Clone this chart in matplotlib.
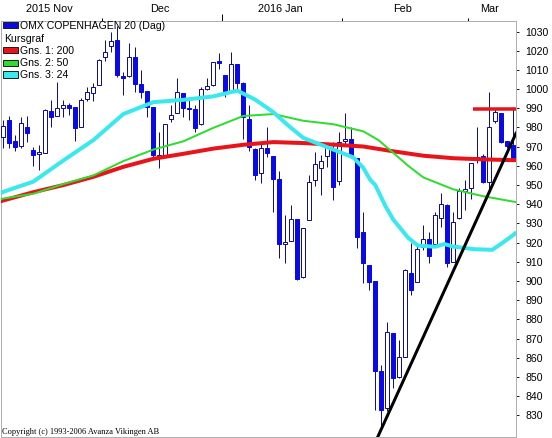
import matplotlib
matplotlib.use('Agg')
import matplotlib.pyplot as plt
from matplotlib.patches import Rectangle
from matplotlib.transforms import blended_transform_factory

plt.rcParams['font.family'] = ['Liberation Sans', 'DejaVu Sans']

# ---------------- data ----------------
opens = [974.9, 983.9, 973.2, 970.5, 980.1, 968.3, 966.4, 966.9, 988.8, 986.0,
         990.3, 991.6, 990.5, 980.4, 994.7, 998.2, 1002.1, 1016.6, 1022.5, 1025.6,
         1006.8, 1007.0, 1016.6, 1002.7, 999.0, 990.5, 965.7, 964.8, 984.3, 987.7,
         997.8, 990.2, 989.5, 981.7, 1000.2, 1002.0, 1014.6, 1007.4, 999.2, 1013.1,
         1003.4, 984.3, 968.8, 956.1, 969.5, 965.1, 953.0, 919.2, 921.0, 932.1,
         902.0, 931.8, 952.6, 958.7, 965.1, 968.6, 952.1, 972.9, 973.8, 963.9,
         925.4, 908.4, 900.0, 853.0, 833.7, 872.8, 849.9, 860.6, 904.0, 899.7,
         917.9, 921.7, 919.1, 932.7, 939.7, 910.1, 932.7, 947.1, 948.3, 963.5,
         965.1, 951.8, 983.4, 987.3, 972.9, 970.8]
highs = [983.9, 986.0, 976.1, 985.7, 986.2, 970.0, 970.9, 989.5, 994.3, 1003.9,
         994.3, 992.6, 990.8, 995.2, 1001.3, 1003.4, 1015.5, 1025.6, 1030.0, 1033.0,
         1009.0, 1024.2, 1022.1, 1010.0, 999.0, 990.5, 977.8, 982.0, 991.7, 1005.6,
         998.0, 996.1, 991.7, 1001.3, 1005.6, 1014.2, 1018.6, 1007.6, 1019.3, 1013.3,
         1003.6, 991.7, 969.2, 972.6, 980.4, 965.3, 957.3, 934.4, 939.6, 932.3,
         927.7, 955.2, 967.4, 965.7, 971.7, 972.6, 977.4, 987.7, 980.0, 964.1,
         936.1, 908.6, 900.2, 856.3, 878.7, 873.0, 869.3, 906.5, 919.6, 919.6,
         929.2, 925.7, 936.1, 945.7, 940.0, 936.1, 948.3, 952.6, 961.5, 980.4,
         966.0, 998.6, 990.0, 987.5, 973.0, 990.8]
lows = [969.2, 969.2, 967.9, 969.5, 972.6, 960.1, 957.9, 966.5, 980.4, 986.0,
        985.7, 986.5, 973.2, 980.4, 994.0, 994.0, 1002.1, 1014.8, 1019.5, 1006.1,
        997.0, 1006.5, 998.7, 995.2, 985.7, 964.8, 958.7, 964.5, 983.0, 987.4,
        985.7, 983.9, 977.8, 981.5, 999.5, 1001.6, 1010.3, 995.7, 998.7, 998.7,
        973.8, 968.0, 952.6, 950.9, 964.4, 936.1, 911.8, 909.2, 920.8, 900.7,
        901.8, 931.6, 949.5, 944.8, 959.6, 942.2, 950.0, 970.8, 963.9, 917.0,
        899.0, 895.3, 832.8, 824.0, 832.5, 844.5, 849.5, 860.4, 893.0, 899.5,
        916.2, 909.2, 918.9, 928.3, 907.1, 909.9, 932.5, 937.0, 942.5, 961.5,
        951.0, 947.4, 982.1, 971.7, 969.1, 962.5]
closes = [980.8, 971.8, 970.0, 982.2, 977.3, 965.7, 966.8, 989.1, 985.7, 990.0,
          991.6, 990.3, 979.9, 994.3, 998.5, 1000.9, 1015.2, 1019.5, 1025.2, 1007.4,
          1005.8, 1016.6, 1002.7, 998.7, 990.5, 965.7, 964.5, 981.8, 986.5, 998.7,
          990.0, 989.6, 979.9, 999.9, 1001.4, 1014.0, 1013.8, 999.2, 1013.1, 1003.4,
          985.7, 970.0, 955.2, 969.1, 966.5, 953.0, 919.1, 920.2, 932.1, 900.9,
          927.5, 951.4, 960.8, 962.5, 969.1, 949.1, 972.6, 973.8, 965.6, 922.8,
          909.2, 899.7, 853.3, 833.0, 873.4, 849.3, 860.3, 905.8, 895.2, 916.5,
          921.7, 913.2, 934.4, 939.9, 909.2, 930.6, 946.9, 947.8, 961.3, 964.5,
          951.8, 980.4, 987.9, 972.6, 970.5, 963.0]

month_labels = ['2015 Nov', 'Dec', '2016 Jan', 'Feb', 'Mar']
month_days = [17, 20, 20, 21, 8]          # trading days shown per month
year_start_month = 2                       # index of '2016 Jan'

# moving averages, read at candle positions
ma200_x = [-0.5, 0, 5, 10, 15, 20, 25, 30, 35, 40, 45, 50, 55, 60, 65, 70, 75, 80, 85, 85.5]
ma200_y = [941.5, 942.0, 946.3, 950.0, 954.3, 959.5, 963.7, 966.3, 969.0, 971.0,
           972.4, 971.9, 971.1, 970.1, 967.6, 965.3, 964.0, 963.4, 963.0, 963.0]

ma50_x = [-0.5, 0, 5, 10, 15, 20, 25, 30, 35, 40, 45, 50, 55, 60, 62.5, 65, 67.5, 70, 75, 80, 85, 85.5]
ma50_y = [942.5, 943.0, 945.5, 950.5, 955.0, 962.5, 968.5, 972.8, 979.8, 986.0,
          987.0, 983.5, 981.7, 978.0, 973.5, 966.8, 960.0, 954.0, 947.8, 944.2, 941.4, 941.2]

ma24_x = [-0.5, 0, 5, 10, 15, 20, 25, 30, 35, 39, 42, 45, 47.5, 50, 55, 58.3, 60, 61.1,
          62, 63.7, 65, 67.5, 69.1, 72, 73.5, 75, 78.5, 81.5, 83, 85, 85.5]
ma24_y = [945.5, 946.5, 951.8, 962.8, 973.4, 987.0, 993.2, 994.4, 996.2, 999.2, 994.5,
          988.0, 981.0, 974.6, 968.5, 964.5, 959.0, 953.0, 950.0, 939.0, 932.0, 922.5,
          918.5, 917.9, 919.3, 918.0, 916.6, 916.3, 919.5, 924.0, 925.5]

resist_x = [78.3, 85.6]
resist_y = [989.7, 989.7]

trend_x = [62.3, 85.45]
trend_y = [818.1, 977.0]

y_ticks = [830, 840, 850, 860, 870, 880, 890, 900, 910, 920, 930,
           940, 950, 960, 970, 980, 990, 1000, 1010, 1020, 1030]

legend_items = [('OMX COPENHAGEN 20 (Dag)', '#0a0ae6'),
                ('Kursgraf', None),
                ('Gns. 1: 200', '#e8141a'),
                ('Gns. 2: 50', '#2fdc2f'),
                ('Gns. 3: 24', '#3ae8ee')]
copyright_text = 'Copyright (c) 1993-2006 Avanza Vikingen AB'

# ---------------- style ----------------
W, H = 552, 438
BLUE = '#0a0ae6'
NAVY = '#10108c'
RED = '#e8141a'
GREEN = '#2fdc2f'
CYAN = '#3ae8ee'
FRAME = '#b0b0b0'
PX = 0.72  # points per pixel at dpi 100

fig = plt.figure(figsize=(W / 100, H / 100), dpi=100)
ax = fig.add_axes([1 / W, 1 - 436.5 / H, 515 / W, 416 / H])
ax.set_xlim(-0.383, 85.45)
ax.set_ylim(819.06, 1035.73)

# candles
n = len(opens)
idx = list(range(n))
ax.vlines(idx, lows, highs, color=NAVY, lw=1.0 * PX, zorder=2)
bottoms = [min(o, c) for o, c in zip(opens, closes)]
heights = [max(abs(c - o), 0.6) for o, c in zip(opens, closes)]
faces = ['white' if c >= o else BLUE for o, c in zip(opens, closes)]
edges = [NAVY if c >= o else BLUE for o, c in zip(opens, closes)]
ax.bar(idx, heights, bottom=bottoms, width=0.64, color=faces,
       edgecolor=edges, linewidth=1.0 * PX, zorder=3)

# moving averages and drawn lines
ax.plot(ma200_x, ma200_y, color=RED, lw=4 * PX, zorder=4, solid_capstyle='butt')
ax.plot(ma50_x, ma50_y, color=GREEN, lw=2 * PX, zorder=4, solid_capstyle='butt')
ax.plot(ma24_x, ma24_y, color=CYAN, lw=4 * PX, zorder=4, solid_capstyle='butt')
ax.plot(resist_x, resist_y, color=RED, lw=3.5 * PX, zorder=5, solid_capstyle='butt')
ax.plot(trend_x, trend_y, color='black', lw=3 * PX, zorder=6)

# frame
for s in ax.spines.values():
    s.set_color(FRAME)
    s.set_linewidth(1.0 * PX)

# right y axis
ax.yaxis.tick_right()
ax.set_yticks(y_ticks)
ax.set_yticklabels([str(v) for v in y_ticks])
ax.tick_params(axis='y', direction='out', length=3 * PX, width=1.0 * PX,
               color='#202020', pad=6.5 * PX, labelsize=7.6, labelcolor='black')

# top month boundaries
bounds = []
acc = -0.5
for d in month_days[:-1]:
    acc += d
    bounds.append(acc)
ax.xaxis.tick_top()
major = [bounds[year_start_month - 1]]
minor = [b for i, b in enumerate(bounds) if i != year_start_month - 1]
ax.set_xticks(major)
ax.set_xticks(minor, minor=True)
ax.set_xticklabels([])
ax.tick_params(axis='x', which='major', direction='out', length=7 * PX,
               width=1.0 * PX, color='black', top=True, bottom=False)
ax.tick_params(axis='x', which='minor', direction='out', length=3.5 * PX,
               width=1.0 * PX, color='black', top=True, bottom=False)

x0, x1 = ax.get_xlim()
edges_m = [x0] + bounds + [x1]
trans = blended_transform_factory(ax.transData, fig.transFigure)
for i, lab in enumerate(month_labels):
    cx = (edges_m[i] + edges_m[i + 1]) / 2
    ax.text(cx - 0.4, 1 - 11.5 / H, lab, transform=trans, ha='center', va='baseline',
            fontsize=7.8, color='black', clip_on=False)

# legend (top-left, drawn over the chart)
baselines = [29.3, 41.8, 54.3, 66.5, 78.5]
for (lab, col), yb in zip(legend_items, baselines):
    if col is not None:
        fig.add_artist(Rectangle((3 / W, 1 - (yb - 1) / H), 15 / W, 6 / H,
                                 transform=fig.transFigure, facecolor=col,
                                 edgecolor='#202020', linewidth=1.0 * PX, zorder=10))
        tx = 20.5
    else:
        tx = 4
    fig.text(tx / W, 1 - yb / H, lab, ha='left', va='baseline', fontsize=7.6,
             color='black', zorder=11)

fig.text(2 / W, 1 - 433.5 / H, copyright_text, ha='left', va='baseline',
         fontsize=6.0, family=['Liberation Serif', 'DejaVu Serif'], color='black', zorder=11)

fig.savefig('out.png', dpi=100)
